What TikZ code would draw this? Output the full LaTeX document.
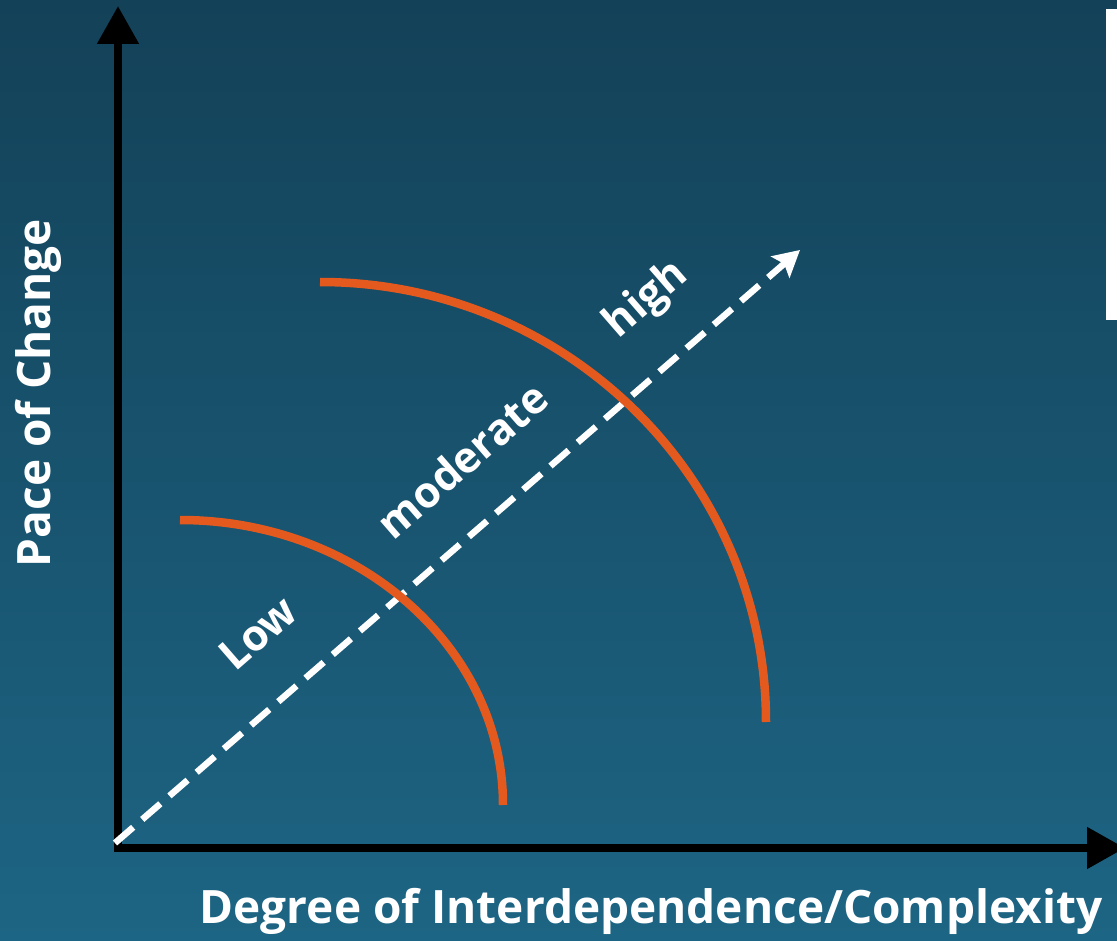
\documentclass[tikz,border=0pt]{standalone}
\usepackage{fontspec}
\setmainfont{Open Sans}
\usepackage{xcolor}
\usetikzlibrary{arrows.meta}
\definecolor{bgtop}{RGB}{19,65,88}
\definecolor{bgbot}{RGB}{29,101,132}
\definecolor{arcor}{RGB}{228,90,30}
\tikzset{
  ax/.style={line width=8pt,-{Triangle[length=38pt,width=40pt]}},
  diag/.style={white,line width=6.5pt,dash pattern=on 24pt off 12pt,-{Stealth[length=26pt,width=28pt,inset=5pt]}},
  band/.style={arcor,line width=8.5pt},
  lbl/.style={white,font=\fontsize{43}{47}\selectfont\bfseries,inner sep=0pt},
  axlbl/.style={white,font=\fontsize{46}{50}\selectfont\bfseries,inner sep=0pt}
}

\begin{document}
\begin{tikzpicture}[x=1pt,y=-1pt]
\useasboundingbox (0,0) rectangle (1117,941);
\shade[top color=bgtop,bottom color=bgbot] (0,0) rectangle (1117,941);
\fill[white] (1106,9) rectangle (1117,320);
\coordinate (o) at (118,848); \coordinate (ytip) at (118,6); \coordinate (xtip) at (1125,848);
\coordinate (ds) at (115,843); \coordinate (de) at (800,250);
\draw[ax] (118,852) -- (ytip); \draw[ax] (114,848) -- (xtip);
\draw[diag] (ds) -- (de);
\draw[band] (180,520) arc[start angle=-90,end angle=0,x radius=323,y radius=285];
\draw[band] (320,282) arc[start angle=-90,end angle=0,x radius=446,y radius=440];
\node[lbl,rotate=41] (low) at (258,633) {Low};
\node[lbl,rotate=41] (mod) at (462,460) {moderate};
\node[lbl,rotate=41] (high) at (647,300) {high};
\node[axlbl,rotate=90] (pace) at (38,393) {Pace of Change};
\node[axlbl] (deg) at (651,911) {Degree of Interdependence/Complexity};
\end{tikzpicture}
\end{document}
